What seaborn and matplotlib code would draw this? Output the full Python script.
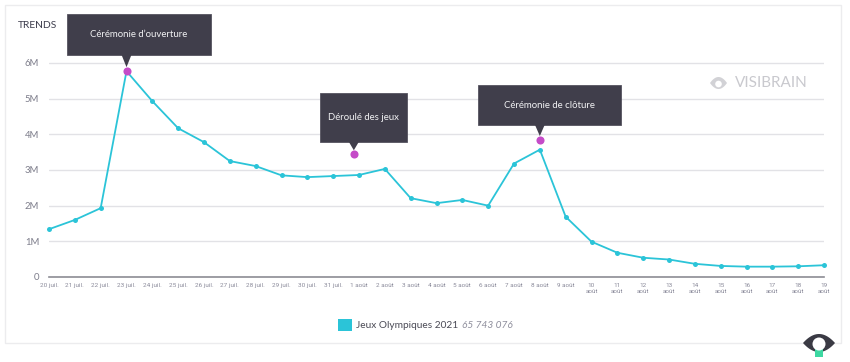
import numpy as np
import pandas as pd
import seaborn as sns
import matplotlib.pyplot as plt
from matplotlib.patches import Rectangle, Polygon, Circle, Patch
from matplotlib.transforms import IdentityTransform

# daily mentions, 20 juil. -> 19 août
days = ["20 juil.", "21 juil.", "22 juil.", "23 juil.", "24 juil.", "25 juil.",
        "26 juil.", "27 juil.", "28 juil.", "29 juil.", "30 juil.", "31 juil.",
        "1 août", "2 août", "3 août", "4 août", "5 août", "6 août", "7 août",
        "8 août", "9 août", "10\naoût", "11\naoût", "12\naoût", "13\naoût",
        "14\naoût", "15\naoût", "16\naoût", "17\naoût", "18\naoût", "19\naoût"]
mentions = [1.34e6, 1.60e6, 1.93e6, 5.77e6, 4.93e6, 4.17e6, 3.78e6, 3.25e6,
            3.11e6, 2.85e6, 2.80e6, 2.83e6, 2.86e6, 3.03e6, 2.21e6, 2.07e6,
            2.16e6, 2.00e6, 3.18e6, 3.57e6, 1.69e6, 0.99e6, 0.68e6, 0.54e6,
            0.49e6, 0.37e6, 0.31e6, 0.29e6, 0.29e6, 0.30e6, 0.33e6]

events = ["Cérémonie d’ouverture", "Déroulé des jeux", "Cérémonie de clôture"]
event_x = [3, 11.8, 19]
event_y = [5.77e6, 3.44e6, 3.84e6]

y_ticks = [0, 1e6, 2e6, 3e6, 4e6, 5e6, 6e6]
y_labels = ["0", "1M", "2M", "3M", "4M", "5M", "6M"]

series_name = "Jeux Olympiques 2021"
series_total = "65 743 076"

CYAN = "#2bc4d8"
MAGENTA = "#c54bc8"
DARK = "#403e4b"

W, H = 850, 362
sns.set_style("white")
plt.rcParams['font.family'] = ['Lato', 'DejaVu Sans']

fig = plt.figure(figsize=(W / 100, H / 100), dpi=100)
fig.patch.set_facecolor("white")

# card border
fig.patches.append(Rectangle((5 / W, 1 - 343 / H), 836 / W, 338 / H,
                             transform=fig.transFigure, fill=False,
                             edgecolor="#ececee", lw=1))

ytop = 6.3e6
px_per_unit = 35.67 / 1e6
ax_h = ytop * px_per_unit
ax = fig.add_axes([49 / W, 1 - 277 / H, (824 - 49) / W, ax_h / H])

df = pd.DataFrame({"x": np.arange(len(days)), "v": mentions})
sns.lineplot(data=df, x="x", y="v", ax=ax, color=CYAN, lw=1.3,
             marker="o", markersize=3.6, markeredgewidth=0, clip_on=False, zorder=3)
ax.scatter(event_x, event_y, s=34, color=MAGENTA, zorder=5, clip_on=False, linewidths=0)

ax.set_xlim(0, len(days) - 1)
ax.set_ylim(0, ytop)
ax.set_yticks(y_ticks, y_labels)
ax.set_xticks(np.arange(len(days)), days)
ax.set_xlabel("")
ax.set_ylabel("")
ax.yaxis.grid(True, color="#e2e2e6", lw=1)
ax.xaxis.grid(False)
ax.set_axisbelow(True)
for s in ["top", "right", "left"]:
    ax.spines[s].set_visible(False)
ax.spines["bottom"].set_color("#8c8c94")
ax.spines["bottom"].set_linewidth(1.2)
ax.tick_params(axis="both", length=0)
ax.tick_params(axis="y", labelsize=6.8, labelcolor="#7c7c8a", pad=7)
ax.tick_params(axis="x", labelsize=4.6, labelcolor="#8a8a9a", pad=4)
for lab in ax.get_xticklabels():
    lab.set_fontfamily("Roboto")
    lab.set_linespacing(1.25)
for lab in ax.get_yticklabels():
    lab.set_fontfamily("Lato")

fig.text(18 / W, 1 - 26 / H, "TRENDS", fontsize=7.4, color="#3c3c4c", va="center")

# tooltips above the event dots (offsets in pixels, y down)
boxes = [(-60, 84, -57, -16), (-34, 53, -61, -12), (-62, 81, -55, -15)]
ident = IdentityTransform()
for label, xi, yi, (l, r, t, b) in zip(events, event_x, event_y, boxes):
    dx, dy = ax.transData.transform((xi, yi))
    rect = Rectangle((dx + l, dy - b), r - l, b - t, transform=ident,
                     facecolor=DARK, edgecolor="#55535f", lw=0.6, zorder=10)
    fig.patches.append(rect)
    tri = Polygon([(dx - 5, dy - b + 0.5), (dx + 5, dy - b + 0.5), (dx, dy + 4)],
                  closed=True, transform=ident, facecolor=DARK, edgecolor="none", zorder=10)
    fig.patches.append(tri)
    fig.text(dx + (l + r) / 2, dy - (t + b) / 2, label, transform=ident,
             ha="center", va="center", fontsize=6.9, color="#f2f2f4", zorder=11)

# watermark
eye = np.linspace(-1, 1, 40)
wx, wy = 718.5, H - 83
lens = np.concatenate([np.c_[wx + 8.5 * eye, wy + 6 * (1 - eye ** 2)],
                       np.c_[wx - 8.5 * eye, wy - 6 * (1 - eye ** 2)]])
fig.patches.append(Polygon(lens, closed=True, transform=ident,
                           facecolor="#d2d2d6", edgecolor="none"))
fig.patches.append(Circle((wx, wy - 1), 3.3, transform=ident,
                          facecolor="white", edgecolor="none"))
fig.text(735 / W, 1 - 83 / H, "VISIBRAIN", fontsize=11, color="#c9c9ce",
         va="center", ha="left")

# legend
leg = fig.legend(handles=[Patch(facecolor=CYAN, edgecolor="none")],
                 labels=[series_name], loc="center left",
                 bbox_to_anchor=(338 / W, 1 - 325 / H), frameon=False,
                 fontsize=7.3, handlelength=1.4, handleheight=1.45,
                 handletextpad=0.35, borderpad=0, borderaxespad=0)
for txt in leg.get_texts():
    txt.set_color("#4a4a55")
fig.canvas.draw()
ax.annotate(series_total, xy=(1, 0.5), xycoords=leg.get_texts()[0],
            xytext=(3, 0), textcoords="offset points", va="center", ha="left",
            fontsize=7.3, style="italic", color="#8e8e9c", annotation_clip=False)

# bottom logo
bx, by = 819, H - 343
lens2 = np.concatenate([np.c_[bx + 16 * eye, by + 9 * (1 - eye ** 2)],
                        np.c_[bx - 16 * eye, by - 9 * (1 - eye ** 2)]])
fig.patches.append(Polygon(lens2, closed=True, transform=ident,
                           facecolor="#3a3a44", edgecolor="none", zorder=20))
fig.patches.append(Rectangle((bx - 4, by - 14), 8, 8, transform=ident,
                             facecolor="#3dd8a2", edgecolor="none", zorder=21))
fig.patches.append(Circle((bx, by - 1), 6.5, transform=ident,
                          facecolor="white", edgecolor="none", zorder=22))

fig.savefig("out.png", dpi=100)
